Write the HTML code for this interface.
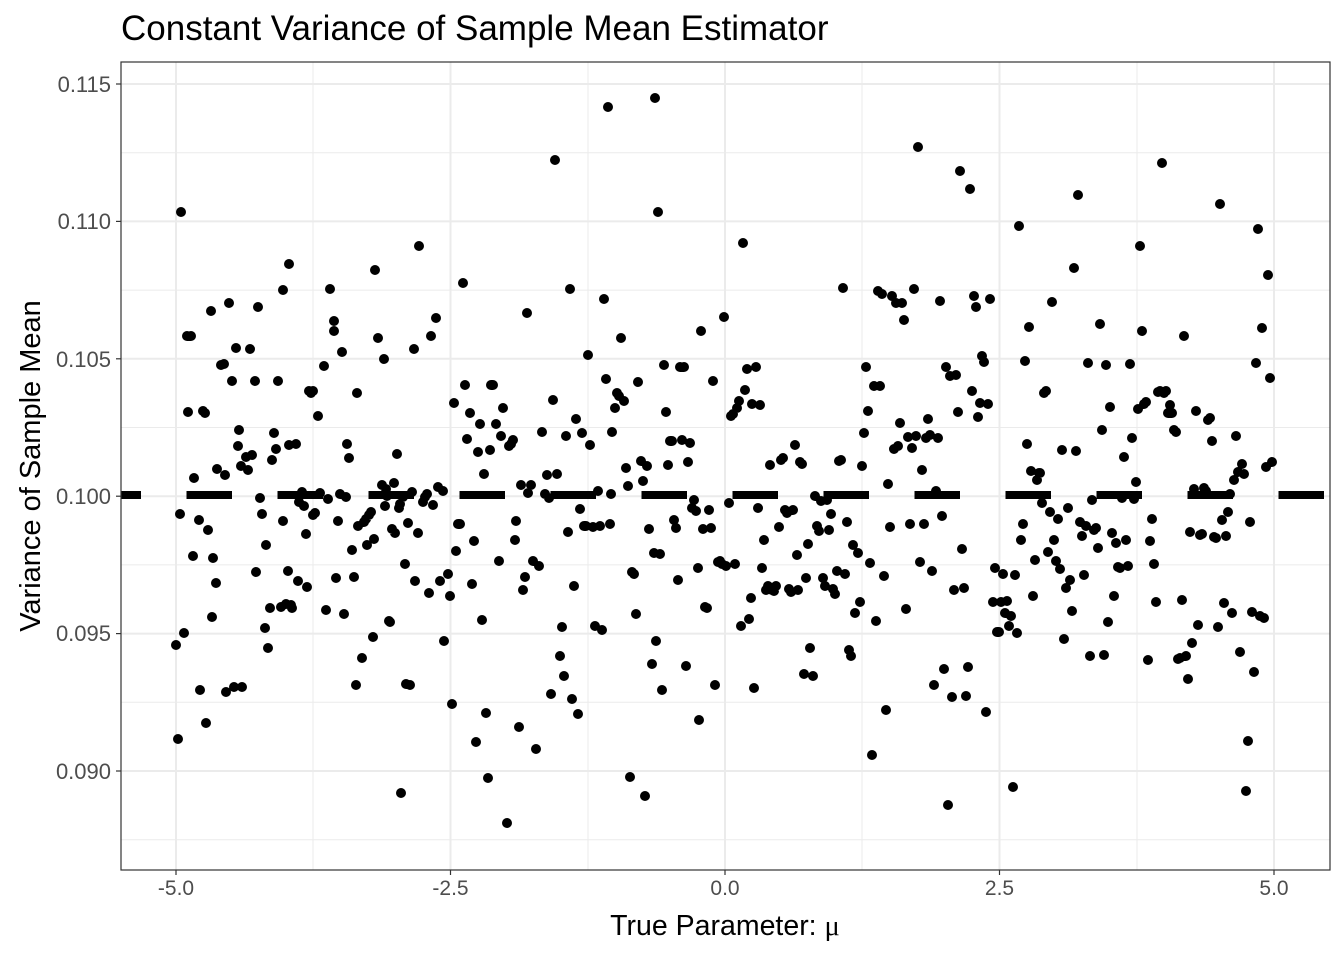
<!DOCTYPE html>
<html><head><meta charset="utf-8"><style>body{margin:0;background:#fff}</style></head><body>
<svg width="1344" height="960" xmlns="http://www.w3.org/2000/svg" font-family="Liberation Sans, Arial, sans-serif">
<rect width="1344" height="960" fill="#fff"/>
<g stroke="#ebebeb" stroke-width="1">
<line x1="121" x2="1330" y1="152.7" y2="152.7"/><line x1="121" x2="1330" y1="290.1" y2="290.1"/><line x1="121" x2="1330" y1="427.5" y2="427.5"/><line x1="121" x2="1330" y1="564.9" y2="564.9"/><line x1="121" x2="1330" y1="702.3" y2="702.3"/><line x1="121" x2="1330" y1="839.7" y2="839.7"/>
<line y1="62" y2="870" x1="313" x2="313"/><line y1="62" y2="870" x1="588" x2="588"/><line y1="62" y2="870" x1="862" x2="862"/><line y1="62" y2="870" x1="1137" x2="1137"/>
</g>
<g stroke="#ebebeb" stroke-width="2">
<line x1="121" x2="1330" y1="84" y2="84"/><line x1="121" x2="1330" y1="221.4" y2="221.4"/><line x1="121" x2="1330" y1="358.8" y2="358.8"/><line x1="121" x2="1330" y1="496.2" y2="496.2"/><line x1="121" x2="1330" y1="633.6" y2="633.6"/><line x1="121" x2="1330" y1="771" y2="771"/>
<line y1="62" y2="870" x1="176" x2="176"/><line y1="62" y2="870" x1="450.5" x2="450.5"/><line y1="62" y2="870" x1="725" x2="725"/><line y1="62" y2="870" x1="999.5" x2="999.5"/><line y1="62" y2="870" x1="1274" x2="1274"/>
</g>
<path fill="none" stroke="#000" stroke-width="10" stroke-linecap="round" d="M655 98h0M176 645h0M178 739h0M181 212h0M180 514h0M184 633h0M187 336h0M191 336h0M188 412h0M193 556h0M194 478h0M199 520h0M200 690h0M203 411h0M205 413h0M206 723h0M208 530h0M211 311h0M212 617h0M213 558h0M216 583h0M217 469h0M221 365h0M224 364h0M225 475h0M226 692h0M229 303h0M232 381h0M234 687h0M236 348h0M238 446h0M239 430h0M241 466h0M242 687h0M246 457h0M248 470h0M250 349h0M252 455h0M255 381h0M256 572h0M258 307h0M260 498h0M262 514h0M265 628h0M266 545h0M268 648h0M270 608h0M272 460h0M274 433h0M276 449h0M278 381h0M281 607h0M283 290h0M283 521h0M286 604h0M288 571h0M289 264h0M289 445h0M291 605h0M292 608h0M296 444h0M298 581h0M299 502h0M302 492h0M304 506h0M306 534h0M307 587h0M309 391h0M311 393h0M313 391h0M313 515h0M315 513h0M318 416h0M320 493h0M324 366h0M326 610h0M328 499h0M330 289h0M334 321h0M334 331h0M336 578h0M338 521h0M340 494h0M342 352h0M344 614h0M346 497h0M347 444h0M349 458h0M352 550h0M354 577h0M356 685h0M357 393h0M358 526h0M362 658h0M364 522h0M366 519h0M367 545h0M369 515h0M371 512h0M373 637h0M374 539h0M375 270h0M378 338h0M382 485h0M384 359h0M385 506h0M386 489h0M387 496h0M389 621h0M390 622h0M392 529h0M394 483h0M395 533h0M397 454h0M399 508h0M400 504h0M401 793h0M403 497h0M405 564h0M406 684h0M408 523h0M410 685h0M412 492h0M414 349h0M415 581h0M418 533h0M419 246h0M423 502h0M425 497h0M427 494h0M429 593h0M431 336h0M433 505h0M436 318h0M438 487h0M440 581h0M443 491h0M444 641h0M448 574h0M450 596h0M452 704h0M454 403h0M456 551h0M458 524h0M460 524h0M463 283h0M465 385h0M467 439h0M470 413h0M472 584h0M474 541h0M476 742h0M478 452h0M480 424h0M482 620h0M484 474h0M486 713h0M488 778h0M490 450h0M491 385h0M493 385h0M496 424h0M499 561h0M501 436h0M503 408h0M507 823h0M509 446h0M511 444h0M513 440h0M515 540h0M516 521h0M519 727h0M521 485h0M523 590h0M525 577h0M527 313h0M528 493h0M531 485h0M533 561h0M536 749h0M539 566h0M542 432h0M545 494h0M547 475h0M549 498h0M551 694h0M553 400h0M555 160h0M557 474h0M560 656h0M562 627h0M564 676h0M566 436h0M568 532h0M570 289h0M572 699h0M574 586h0M576 419h0M578 714h0M580 509h0M582 433h0M584 526h0M586 526h0M588 355h0M590 445h0M593 527h0M595 626h0M598 491h0M600 526h0M602 630h0M604 299h0M606 379h0M608 107h0M610 524h0M611 494h0M612 432h0M615 408h0M617 393h0M619 396h0M621 338h0M624 401h0M626 468h0M628 486h0M630 777h0M632 572h0M634 574h0M636 614h0M638 382h0M641 461h0M643 481h0M645 796h0M647 466h0M649 529h0M652 664h0M654 553h0M656 641h0M658 212h0M660 554h0M662 690h0M664 365h0M666 412h0M668 465h0M670 441h0M672 441h0M674 520h0M676 528h0M678 580h0M680 367h0M682 440h0M684 367h0M686 666h0M688 462h0M690 443h0M692 508h0M694 500h0M696 511h0M698 568h0M699 720h0M701 331h0M703 529h0M705 607h0M707 608h0M709 510h0M711 528h0M713 381h0M715 685h0M718 562h0M720 561h0M722 564h0M724 317h0M726 566h0M729 503h0M731 416h0M733 414h0M735 564h0M737 408h0M739 401h0M741 626h0M743 243h0M745 390h0M747 369h0M749 619h0M751 598h0M752 404h0M754 688h0M756 367h0M758 508h0M760 405h0M762 568h0M764 540h0M766 590h0M768 586h0M770 465h0M772 590h0M774 591h0M776 586h0M779 527h0M781 460h0M783 458h0M785 510h0M787 513h0M789 589h0M791 592h0M793 510h0M795 445h0M797 555h0M798 590h0M800 462h0M802 464h0M804 674h0M806 578h0M808 544h0M810 648h0M813 676h0M815 496h0M817 526h0M819 531h0M821 501h0M823 578h0M825 586h0M827 500h0M829 530h0M831 514h0M833 589h0M835 594h0M837 571h0M839 461h0M841 460h0M843 288h0M845 574h0M847 522h0M849 650h0M851 656h0M853 545h0M855 613h0M858 553h0M860 602h0M862 466h0M864 433h0M866 367h0M868 411h0M870 563h0M872 755h0M874 386h0M876 621h0M878 291h0M880 386h0M882 294h0M884 576h0M886 710h0M888 484h0M890 527h0M892 296h0M894 449h0M896 303h0M898 446h0M900 423h0M902 303h0M904 320h0M906 609h0M908 437h0M910 524h0M912 448h0M914 289h0M916 436h0M918 147h0M920 562h0M922 470h0M924 524h0M926 438h0M928 419h0M930 435h0M932 571h0M934 685h0M936 491h0M938 438h0M940 301h0M942 516h0M944 669h0M946 367h0M948 805h0M950 376h0M952 697h0M954 590h0M956 375h0M958 412h0M960 171h0M962 549h0M964 588h0M966 696h0M968 667h0M970 189h0M972 391h0M974 296h0M976 307h0M978 417h0M980 403h0M982 356h0M984 362h0M986 712h0M988 404h0M990 299h0M993 602h0M995 568h0M997 632h0M999 632h0M1001 602h0M1003 574h0M1005 613h0M1007 601h0M1009 626h0M1011 616h0M1013 787h0M1015 575h0M1017 633h0M1019 226h0M1021 540h0M1023 524h0M1025 361h0M1027 444h0M1029 327h0M1031 471h0M1033 596h0M1035 560h0M1037 480h0M1039 473h0M1040 473h0M1042 503h0M1044 393h0M1046 391h0M1048 552h0M1050 512h0M1052 302h0M1054 540h0M1056 561h0M1058 519h0M1060 569h0M1062 450h0M1064 639h0M1066 588h0M1068 508h0M1070 580h0M1072 611h0M1074 268h0M1076 451h0M1078 195h0M1080 522h0M1082 536h0M1084 575h0M1086 526h0M1088 363h0M1090 656h0M1092 500h0M1094 530h0M1096 528h0M1098 548h0M1100 324h0M1102 430h0M1104 655h0M1106 365h0M1108 622h0M1110 407h0M1112 533h0M1114 596h0M1116 543h0M1118 567h0M1120 568h0M1122 498h0M1124 457h0M1126 540h0M1128 566h0M1130 364h0M1132 438h0M1134 499h0M1136 482h0M1138 409h0M1140 246h0M1142 331h0M1144 404h0M1146 402h0M1148 660h0M1150 541h0M1152 519h0M1154 564h0M1156 602h0M1158 392h0M1160 391h0M1162 163h0M1164 393h0M1166 391h0M1168 413h0M1170 405h0M1172 413h0M1174 430h0M1176 432h0M1178 659h0M1180 658h0M1182 600h0M1184 336h0M1186 656h0M1188 679h0M1190 532h0M1192 643h0M1194 489h0M1196 411h0M1198 625h0M1200 535h0M1202 534h0M1204 488h0M1206 491h0M1208 420h0M1210 418h0M1212 441h0M1214 537h0M1216 538h0M1218 627h0M1220 204h0M1222 520h0M1224 603h0M1226 536h0M1228 512h0M1230 494h0M1232 613h0M1234 480h0M1236 436h0M1238 472h0M1240 652h0M1242 464h0M1244 474h0M1246 791h0M1248 741h0M1250 522h0M1252 612h0M1254 672h0M1256 363h0M1258 229h0M1260 616h0M1262 328h0M1264 618h0M1266 467h0M1268 275h0M1270 378h0M1272 462h0"/>
<line x1="121" x2="1330" y1="495" y2="495" stroke="#000" stroke-width="8" stroke-dasharray="45.5 45.5" stroke-dashoffset="25.5"/>
<rect x="121" y="62" width="1209" height="808" fill="none" stroke="#333" stroke-width="1.2"/>
<g stroke="#333" stroke-width="1.2">
<line x1="116" x2="121" y1="84" y2="84"/><line x1="116" x2="121" y1="221.4" y2="221.4"/><line x1="116" x2="121" y1="358.8" y2="358.8"/><line x1="116" x2="121" y1="496.2" y2="496.2"/><line x1="116" x2="121" y1="633.6" y2="633.6"/><line x1="116" x2="121" y1="771" y2="771"/>
<line y1="870" y2="875" x1="176" x2="176"/><line y1="870" y2="875" x1="450.5" x2="450.5"/><line y1="870" y2="875" x1="725" x2="725"/><line y1="870" y2="875" x1="999.5" x2="999.5"/><line y1="870" y2="875" x1="1274" x2="1274"/>
</g>
<g fill="#4d4d4d" font-size="22" text-anchor="end">
<text x="111" y="92">0.115</text><text x="111" y="229">0.110</text><text x="111" y="367">0.105</text><text x="111" y="504">0.100</text><text x="111" y="641">0.095</text><text x="111" y="779">0.090</text>
</g>
<g fill="#4d4d4d" font-size="21" text-anchor="middle">
<text x="176" y="895">-5.0</text><text x="450.5" y="895">-2.5</text><text x="725" y="895">0.0</text><text x="999.5" y="895">2.5</text><text x="1274" y="895">5.0</text>
</g>
<text x="725" y="935" font-size="28.5" text-anchor="middle">True Parameter: <tspan font-family="Liberation Serif, serif">μ</tspan></text>
<text transform="translate(40,466) rotate(-90)" font-size="29" text-anchor="middle">Variance of Sample Mean</text>
<text x="121" y="40" font-size="35">Constant Variance of Sample Mean Estimator</text>
</svg>
</body></html>
